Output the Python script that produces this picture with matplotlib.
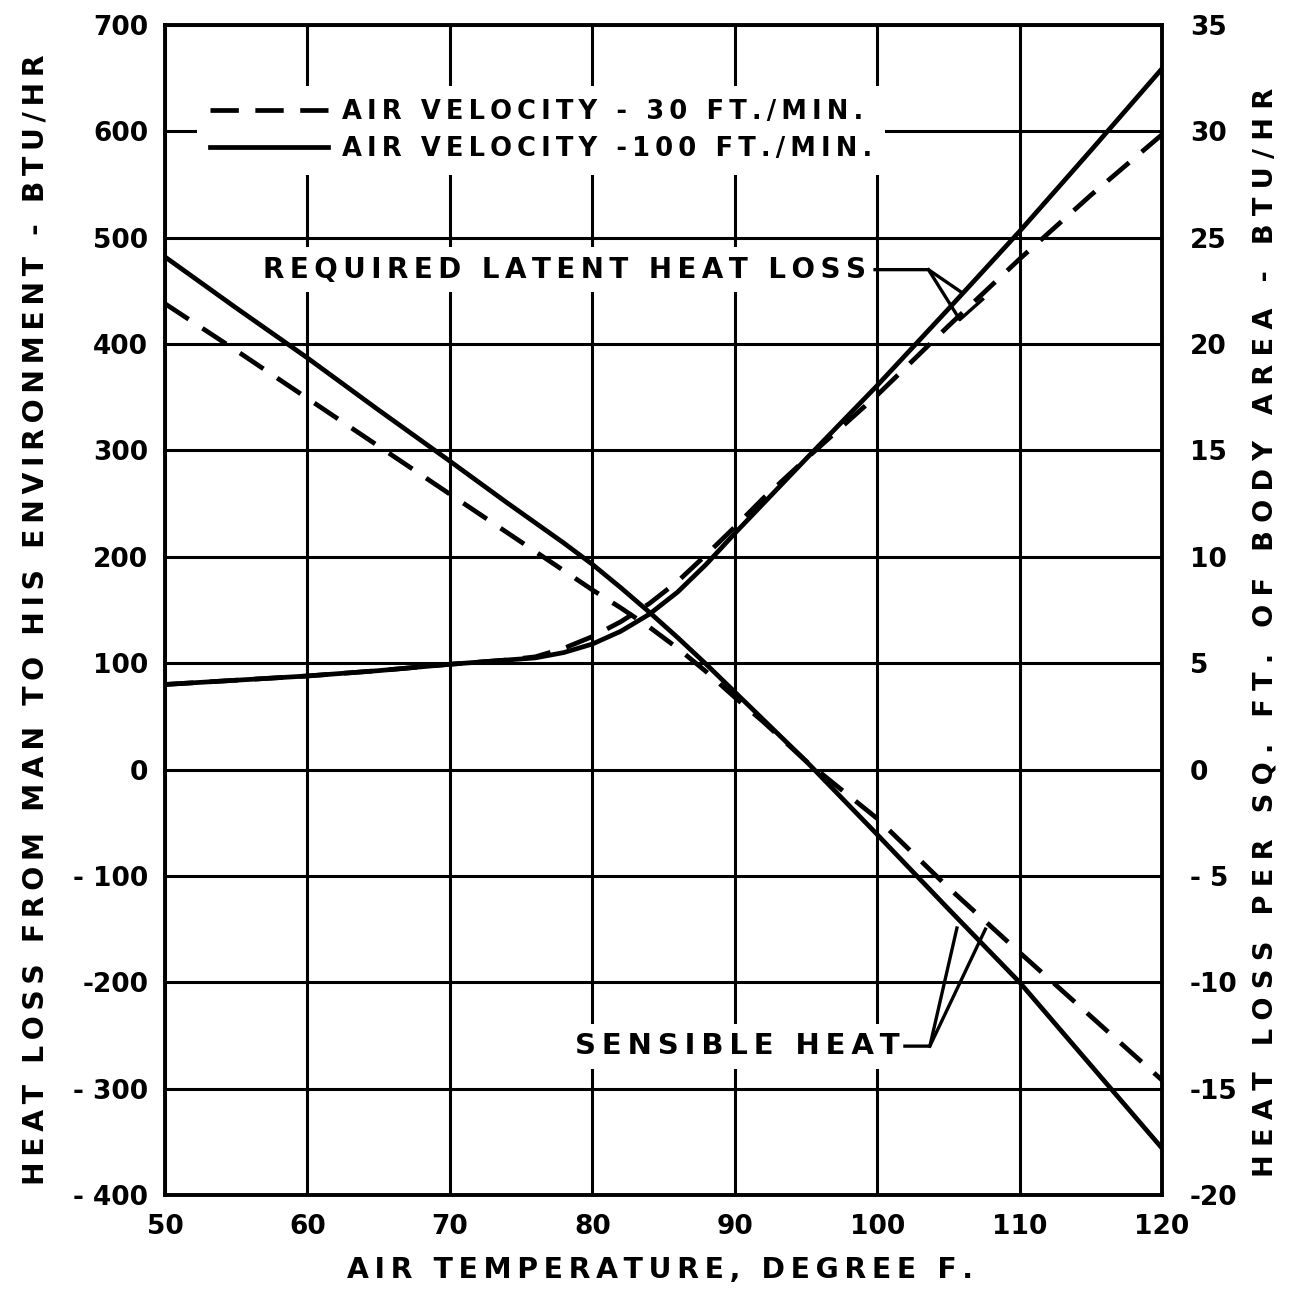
import matplotlib
matplotlib.use('Agg')
import matplotlib.pyplot as plt

# sensible heat (BTU/hr) vs air temperature (deg F)
sens_temp = [50, 55, 60, 65, 70, 74, 76, 78, 80, 82, 84, 86, 88, 90, 92, 95, 100, 105, 110, 115, 120]
sens_30 = [438, 394, 349, 304, 259, 223, 205, 187, 169, 152, 134, 114, 92, 68, 45, 8, -46, -111, -172, -232, -292]
sens_100 = [482, 434, 387, 338, 290, 251, 232, 213, 193, 171, 148, 124, 99, 73, 47, 8, -61, -131, -200, -278, -356]

# required latent heat loss
lat_temp = [50, 55, 60, 65, 70, 74, 76, 78, 80, 82, 84, 86, 88, 90, 92, 95, 100, 105, 110, 115, 120]
lat_30 = [80, 84, 88, 93, 99, 103, 106, 114, 125, 139, 156, 177, 202, 228, 255, 292, 352, 417, 480, 540, 597]
lat_100 = [80, 84, 88, 93, 99, 103, 105, 110, 118, 130, 146, 167, 193, 222, 250, 292, 361, 433, 506, 582, 659]

x_ticks = [50, 60, 70, 80, 90, 100, 110, 120]
left_ticks = [-400, -300, -200, -100, 0, 100, 200, 300, 400, 500, 600, 700]
left_labels = ['- 400', '- 300', '-200', '- 100', '0', '100', '200', '300', '400', '500', '600', '700']
right_ticks = [-20, -15, -10, -5, 0, 5, 10, 15, 20, 25, 30, 35]
right_labels = ['-20', '-15', '-10', '- 5', '0', '5', '10', '15', '20', '25', '30', '35']

label_30 = 'AIR VELOCITY - 30 FT./MIN.'
label_100 = 'AIR VELOCITY -100 FT./MIN.'


def sp(s, gap='\u2009'):
    # crude letter spacing
    return gap.join(s)


plt.rcParams['font.family'] = 'DejaVu Sans'
plt.rcParams['font.weight'] = 'bold'

fig = plt.figure(figsize=(13.02, 12.89), dpi=100)
ax = fig.add_axes([0.1267, 0.0729, 0.7658, 0.9077])
ax.set_axisbelow(True)

lw = 3.4
dash = (0, (6, 3.5))
ax.plot(sens_temp, sens_30, color='black', lw=lw, linestyle=dash, zorder=3, label=sp(label_30))
ax.plot(sens_temp, sens_100, color='black', lw=lw, zorder=3, label=sp(label_100))
ax.plot(lat_temp, lat_30, color='black', lw=lw, linestyle=dash, zorder=3)
ax.plot(lat_temp, lat_100, color='black', lw=lw, zorder=3)

ax.set_xlim(50, 120)
ax.set_ylim(-400, 700)
ax.set_xticks(x_ticks)
ax.set_xticklabels([str(t) for t in x_ticks])
ax.set_yticks(left_ticks)
ax.set_yticklabels(left_labels)
ax.grid(True, color='black', lw=2.2, zorder=0.5)
ax.tick_params(axis='both', length=0, labelsize=19)
ax.tick_params(axis='y', pad=12)
ax.tick_params(axis='x', pad=14)
for s in ax.spines.values():
    s.set_linewidth(2.8)

ax2 = ax.twinx()
ax2.set_ylim(-20, 35)
ax2.set_yticks(right_ticks)
ax2.set_yticklabels(right_labels)
ax2.tick_params(axis='y', length=0, labelsize=19, pad=20)
for s in ax2.spines.values():
    s.set_visible(False)

leg = ax.legend(loc='upper left', bbox_to_anchor=(0.032, 0.948), fontsize=18.5,
                handlelength=4.6, handletextpad=0.55, labelspacing=0.45,
                frameon=True, facecolor='white', edgecolor='none', framealpha=1,
                borderpad=0.5, borderaxespad=0)
leg.set_zorder(5)

box = dict(facecolor='white', edgecolor='none', pad=6)
ax.text(99.2, 470, sp('REQUIRED LATENT HEAT LOSS'), ha='right', va='center',
        fontsize=20, bbox=box, zorder=2)
ax.plot([99.85, 103.6, 106.0], [470, 470, 448], color='black', lw=2.4, zorder=4)
ax.plot([103.6, 105.8, 107.4], [470, 423, 442], color='black', lw=2.4, zorder=4)

ax.text(101.6, -260, sp('SENSIBLE HEAT'), ha='right', va='center',
        fontsize=21, bbox=box, zorder=2)
ax.plot([101.95, 103.7, 105.6], [-260, -260, -149], color='black', lw=2.4, zorder=4)
ax.plot([103.7, 107.6], [-260, -150], color='black', lw=2.4, zorder=4)

fig.text(0.507, 0.0147, sp('AIR TEMPERATURE, DEGREE F.'), ha='center',
         va='center', fontsize=20.3)
fig.text(0.027, 0.519, sp('HEAT LOSS FROM MAN TO HIS ENVIRONMENT - BTU/HR'), ha='center',
         va='center', rotation=90, fontsize=20.3)
fig.text(0.9716, 0.5097, sp('HEAT LOSS PER SQ. FT. OF BODY AREA - BTU/HR', '\u2009\u200a'),
         ha='center', va='center', rotation=90, fontsize=19.6)

fig.savefig('out.png', dpi=100)
